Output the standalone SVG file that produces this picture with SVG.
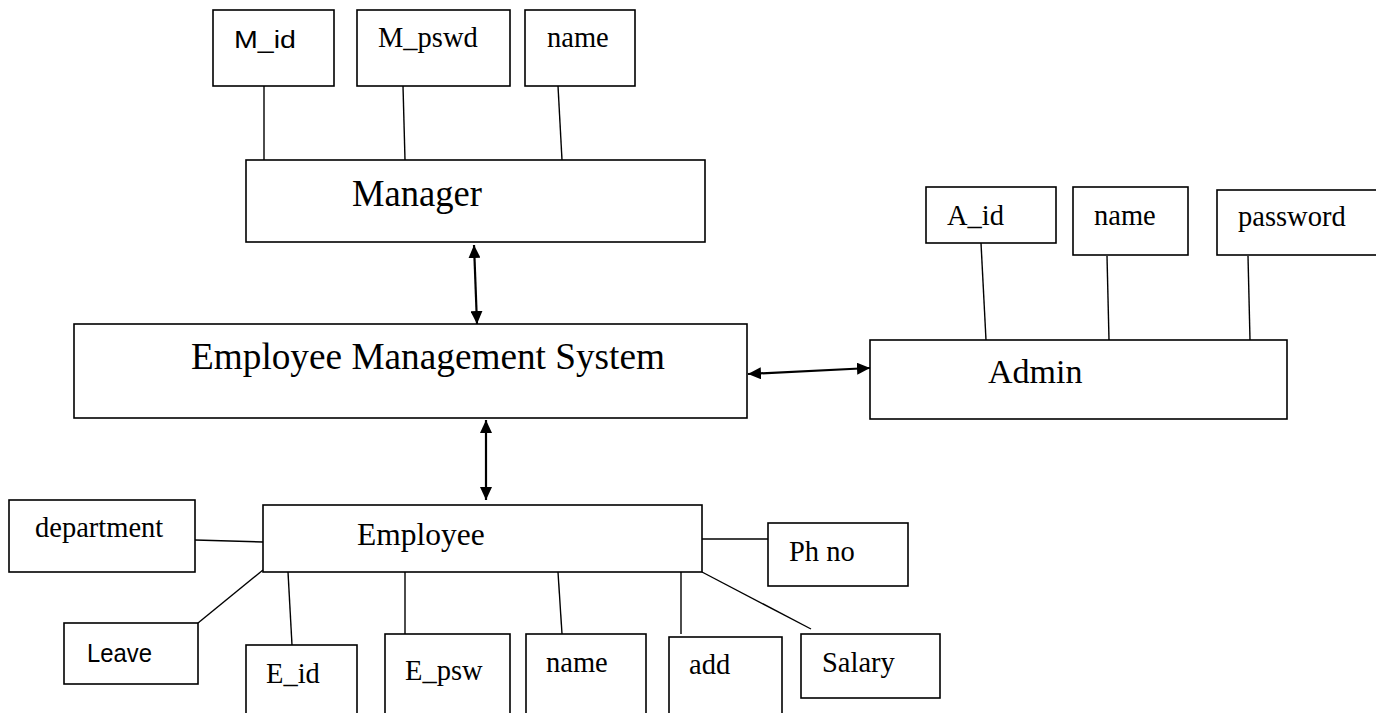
<svg xmlns="http://www.w3.org/2000/svg" width="1376" height="713" viewBox="0 0 1376 713">
<style>
.box{fill:#fff;stroke:#000;stroke-width:1.6}
.ln{stroke:#000;stroke-width:1.4;fill:none}
.ar{stroke:#000;stroke-width:2.2;fill:none;marker-start:url(#ah);marker-end:url(#ah)}
.t{font-family:"Liberation Serif","Times New Roman",serif;font-size:28.5px;fill:#000}
.s{font-family:"Liberation Sans",Arial,sans-serif;fill:#000}
.big{font-family:"Liberation Serif","Times New Roman",serif;fill:#000}
</style>
<defs>
<marker id="ah" markerUnits="userSpaceOnUse" markerWidth="14" markerHeight="12" refX="13" refY="6" orient="auto-start-reverse">
<path d="M0,0 L13,6 L0,12 z" fill="#000"/>
</marker>
</defs>
<rect width="1376" height="713" fill="#fff"/>
<g id="connectors">
<line class="ln" x1="264" y1="86" x2="264" y2="160"/>
<line class="ln" x1="403" y1="86" x2="405" y2="160"/>
<line class="ln" x1="558" y1="86" x2="562" y2="160"/>
<line class="ln" x1="981" y1="243" x2="986" y2="340"/>
<line class="ln" x1="1107" y1="256" x2="1109" y2="340"/>
<line class="ln" x1="1248" y1="256" x2="1250" y2="340"/>
<line class="ln" x1="195" y1="540" x2="263" y2="542"/>
<line class="ln" x1="263" y1="570" x2="198" y2="623"/>
<line class="ln" x1="288" y1="572" x2="292" y2="645"/>
<line class="ln" x1="405" y1="572" x2="405" y2="634"/>
<line class="ln" x1="558" y1="572" x2="562" y2="634"/>
<line class="ln" x1="681" y1="572" x2="681" y2="634"/>
<line class="ln" x1="702" y1="572" x2="811" y2="629"/>
<line class="ln" x1="702" y1="539" x2="768" y2="539"/>
<line class="ar" x1="474" y1="245" x2="477" y2="324"/>
<line class="ar" x1="486" y1="420" x2="486" y2="500"/>
<line class="ar" x1="748" y1="374" x2="870" y2="368"/>
</g>
<g id="manager"><rect class="box" x="246" y="160" width="459" height="82"/><text class="big" x="352" y="205.5" font-size="37" textLength="130" lengthAdjust="spacingAndGlyphs">Manager</text></g>
<g id="m_id"><rect class="box" x="213" y="10" width="121" height="76"/><text class="s" x="234" y="48" font-size="23" textLength="62" lengthAdjust="spacingAndGlyphs">M_id</text></g>
<g id="m_pswd"><rect class="box" x="357" y="10" width="153" height="76"/><text class="t" x="378" y="47">M_pswd</text></g>
<g id="m_name"><rect class="box" x="525" y="10" width="110" height="76"/><text class="t" x="547" y="47">name</text></g>
<g id="ems"><rect class="box" x="74" y="324" width="673" height="94"/><text class="big" x="191" y="369" font-size="37" textLength="474" lengthAdjust="spacingAndGlyphs">Employee Management System</text></g>
<g id="admin"><rect class="box" x="870" y="340" width="417" height="79"/><text class="big" x="988" y="383" font-size="34">Admin</text></g>
<g id="a_id"><rect class="box" x="926" y="187" width="130" height="56"/><text class="t" x="947" y="225">A_id</text></g>
<g id="a_name"><rect class="box" x="1073" y="187" width="115" height="68"/><text class="t" x="1094" y="225">name</text></g>
<g id="a_password"><rect class="box" x="1217" y="190" width="170" height="65"/><text class="t" x="1238" y="226">password</text></g>
<g id="employee"><rect class="box" x="263" y="505" width="439" height="67"/><text class="big" x="357" y="545" font-size="31.5">Employee</text></g>
<g id="department"><rect class="box" x="9" y="500" width="186" height="72"/><text class="t" x="35" y="537">department</text></g>
<g id="leave"><rect class="box" x="64" y="623" width="134" height="61"/><text class="s" x="87" y="662" font-size="26" textLength="65" lengthAdjust="spacingAndGlyphs">Leave</text></g>
<g id="e_id"><rect class="box" x="246" y="645" width="111" height="80"/><text class="t" x="266" y="683">E_id</text></g>
<g id="e_psw"><rect class="box" x="385" y="634" width="125" height="90"/><text class="t" x="405" y="680">E_psw</text></g>
<g id="e_name"><rect class="box" x="526" y="634" width="120" height="90"/><text class="t" x="546" y="672">name</text></g>
<g id="add"><rect class="box" x="669" y="637" width="113" height="90"/><text class="t" x="689" y="674">add</text></g>
<g id="salary"><rect class="box" x="801" y="634" width="139" height="64"/><text class="t" x="822" y="672">Salary</text></g>
<g id="phno"><rect class="box" x="768" y="523" width="140" height="63"/><text class="t" x="789" y="561">Ph no</text></g>
</svg>
